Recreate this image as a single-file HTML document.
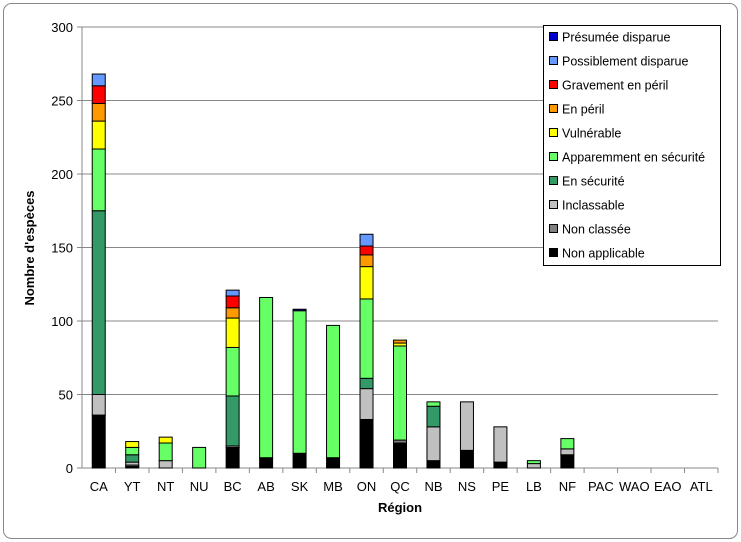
<!DOCTYPE html>
<html><head><meta charset="utf-8"><style>
body{margin:0;background:#fff;}
svg{display:block;font-family:"Liberation Sans",sans-serif;}
</style></head><body>
<svg id="chart" width="741" height="542"></svg>
<script>
const categories=["CA","YT","NT","NU","BC","AB","SK","MB","ON","QC","NB","NS","PE","LB","NF","PAC","WAO","EAO","ATL"];
const seriesNames=["Non applicable","Non classée","Inclassable","En sécurité","Apparemment en sécurité","Vulnérable","En péril","Gravement en péril","Possiblement disparue","Présumée disparue"];
const seriesColors=["#000000","#808080","#c0c0c0","#339966","#66ff66","#ffff00","#ff9900","#ff0000","#6699ff","#0000cc"];
const nonApplicable=[36,1,0,0,14,7,10,7,33,17,5,12,4,0,9,0,0,0,0];
const nonClassee=[0,1,0,0,0,0,0,0,0,2,0,0,0,0,0,0,0,0,0];
const inclassable=[14,2,5,0,1,0,0,0,21,0,23,33,24,3,4,0,0,0,0];
const enSecurite=[125,5,0,0,34,0,0,0,7,0,14,0,0,0,0,0,0,0,0];
const apparemment=[42,5,12,14,33,109,97,90,54,64,3,0,0,2,7,0,0,0,0];
const vulnerable=[19,4,4,0,20,0,0,0,22,2,0,0,0,0,0,0,0,0,0];
const enPeril=[12,0,0,0,7,0,0,0,8,2,0,0,0,0,0,0,0,0,0];
const gravement=[12,0,0,0,8,0,0,0,6,0,0,0,0,0,0,0,0,0,0];
const possiblement=[8,0,0,0,4,0,0,0,8,0,0,0,0,0,0,0,0,0,0];
const presumee=[0,0,0,0,0,0,1,0,0,0,0,0,0,0,0,0,0,0,0];
const yTicks=[0,50,100,150,200,250,300];
const series=[nonApplicable,nonClassee,inclassable,enSecurite,apparemment,vulnerable,enPeril,gravement,possiblement,presumee];

const NS="http://www.w3.org/2000/svg";
const svg=document.getElementById("chart");
const L=82,R=718,T=27,B=468,yMax=300;
const y=v=>B-(v/yMax)*(B-T);
const band=(R-L)/categories.length;
const xc=i=>L+band*(i+0.5);
function mk(t,a,p){const e=document.createElementNS(NS,t);for(const k in a)e.setAttribute(k,a[k]);(p||svg).appendChild(e);return e;}

const frame=mk("rect",{x:3.5,y:3.5,width:734,height:535,rx:8,fill:"#fff",stroke:"#888","stroke-width":1});



yTicks.forEach(t=>{
  if(t>0){const g=mk("line",{x1:L,x2:R,y1:y(t),y2:y(t),stroke:"#888","stroke-width":1});
  
  }
  const tk=mk("line",{x1:L-5,x2:L,y1:y(t),y2:y(t),stroke:"#888"});
  
  
  const tx=mk("text",{x:L-9,y:y(t)+5,"text-anchor":"end","font-size":"13",fill:"#000"});
  tx.textContent=t;
  
  
});
const ya=mk("line",{x1:L,x2:L,y1:T,y2:B,stroke:"#888"});


const xa=mk("line",{x1:L,x2:R,y1:B,y2:B,stroke:"#888"});



categories.forEach((c,i)=>{
  const tk=mk("line",{x1:L+band*(i+1),x2:L+band*(i+1),y1:B,y2:B+5,stroke:"#888"});
  
  
  const tx=mk("text",{x:xc(i),y:B+23,"text-anchor":"middle","font-size":"13",fill:"#000"});
  tx.textContent=c;
  
  
  let cum=0;
  series.forEach((s,k)=>{
    const v=s[i]; if(!v) return;
    const r=mk("rect",{x:xc(i)-6.5,y:y(cum+v),width:13,height:y(cum)-y(cum+v),fill:seriesColors[k],stroke:"#000","stroke-width":1});
    
    
    cum+=v;
  });
});

const yt=mk("text",{x:0,y:0,transform:"translate(34,248) rotate(-90)","text-anchor":"middle","font-size":"13","font-weight":"bold"});
yt.textContent="Nombre d'espèces";


const xt=mk("text",{x:400,y:512,"text-anchor":"middle","font-size":"13","font-weight":"bold"});
xt.textContent="Région";



const lg=mk("g",{});


mk("rect",{x:543.5,y:25.5,width:177,height:240,fill:"#fff",stroke:"#000"},lg);
for(let k=series.length-1,j=0;k>=0;k--,j++){
  const yy=37+j*24;
  const sw=mk("rect",{x:549.5,y:yy-4.5,width:8,height:8,fill:seriesColors[k],stroke:"#000"},lg);
  
  
  const t=mk("text",{x:562,y:yy+4.5,"font-size":"12.5",fill:"#000"},lg);
  t.textContent=seriesNames[k];
  
  
}
</script>
</body></html>
